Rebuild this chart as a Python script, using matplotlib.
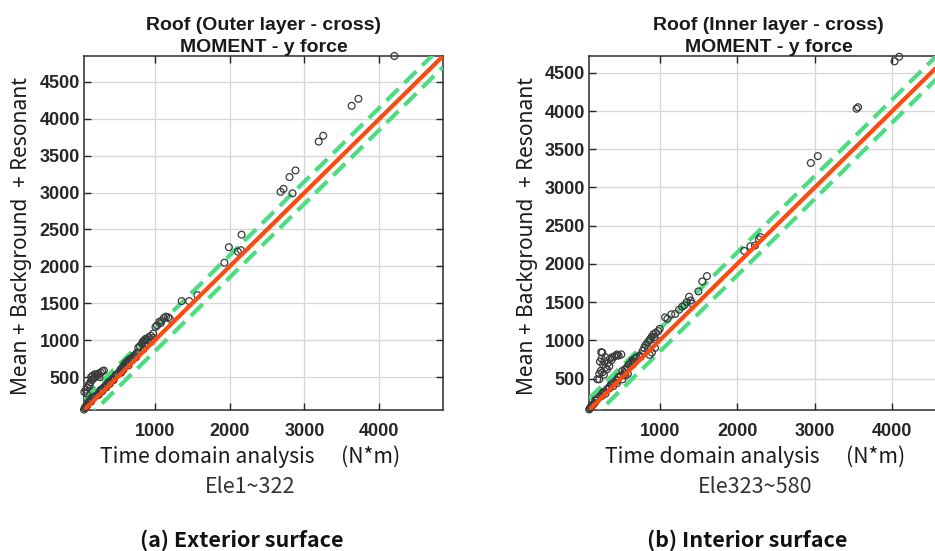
import matplotlib
matplotlib.use('Agg')
import matplotlib.pyplot as plt

# Exterior surface (Ele1~322): time domain vs. mean + background + resonant
ext_x = [4200, 3630, 3720, 3190, 3250, 2680, 2720, 2800, 2880, 2840,
         1990, 1930, 2110, 2150, 2160, 1360, 1460, 1570,
         1030, 1060, 1090, 1120, 1150, 1180, 1200, 1080, 1010,
         840, 860, 880, 900, 920, 950, 980, 870, 830, 800, 780,
         520, 540, 560, 580, 600, 620, 640, 660, 680, 700, 720, 740, 760, 600, 650, 700, 550, 580, 620,
         220, 240, 260, 280, 300, 320, 340, 360, 380, 400, 420, 440, 460, 480, 500, 300, 350, 400, 450,
         55, 65, 75, 85, 100, 115, 130, 145, 160, 180, 200,
         100, 150, 250, 350, 450, 550, 650, 750, 850, 950,
         120, 180, 280, 380, 480, 580, 680, 780, 880, 980,
         60, 80, 100, 120, 140, 160, 180, 200, 220, 250, 280, 300, 320, 240, 200, 170, 150, 260, 130, 90]
ext_y = [4850, 4175, 4270, 3690, 3770, 3010, 3050, 3210, 3300, 2990,
         2260, 2050, 2200, 2220, 2430, 1530, 1530, 1610,
         1200, 1250, 1260, 1300, 1320, 1310, 1290, 1230, 1180,
         980, 1000, 1020, 1000, 1040, 1060, 1090, 960, 950, 920, 900,
         560, 600, 620, 650, 680, 700, 720, 740, 750, 760, 790, 800, 830, 640, 700, 730, 560, 600, 660,
         250, 270, 300, 320, 340, 360, 380, 400, 420, 440, 460, 480, 500, 520, 540, 310, 360, 410, 470,
         60, 80, 95, 110, 130, 150, 160, 180, 200, 220, 240,
         120, 170, 260, 370, 460, 570, 660, 770, 880, 980,
         170, 230, 330, 430, 530, 630, 730, 830, 930, 1030,
         300, 330, 360, 400, 430, 460, 480, 500, 530, 550, 560, 580, 590, 520, 540, 520, 500, 500, 380, 280]

# Interior surface (Ele323~580)
int_x = [4030, 4090, 3540, 3560, 2950, 3040, 2090, 2170, 2280, 2300, 2230,
         1610, 1550, 1500, 1380, 1350, 1290, 1200, 1070, 1400, 1320, 1250, 1150, 1100, 1420,
         870, 900, 920, 950, 980, 1000, 880, 930, 960, 850, 820, 900, 870, 940,
         520, 550, 580, 600, 630, 650, 680, 700, 740, 780, 800, 620, 660, 520, 560, 590,
         200, 230, 260, 290, 320, 350, 380, 410, 440, 470, 500, 300, 400, 450,
         90, 100, 110, 120, 140, 160, 180,
         150, 250, 350, 450, 550, 650, 750, 850, 170, 270, 370, 470, 570, 670, 770,
         245, 220, 415, 450, 350, 285, 260, 195, 440, 505, 250, 230, 270, 300, 330, 360,
         390, 300, 240, 220, 260, 280, 320, 470, 380]
int_y = [4650, 4710, 4030, 4050, 3320, 3410, 2170, 2230, 2320, 2350, 2240,
         1840, 1770, 1640, 1570, 1500, 1440, 1345, 1300, 1520, 1460, 1400, 1340, 1280, 1480,
         1000, 1050, 1080, 1100, 1120, 1150, 1020, 1040, 1000, 980, 940, 840, 810, 900,
         600, 620, 650, 680, 710, 740, 760, 780, 800, 860, 900, 690, 720, 490, 540, 560,
         240, 270, 300, 330, 360, 390, 420, 450, 480, 510, 540, 300, 400, 440,
         95, 110, 125, 140, 160, 180, 210,
         170, 270, 370, 470, 570, 680, 780, 890, 220, 320, 420, 520, 620, 720, 820,
         845, 490, 790, 815, 660, 725, 840, 490, 800, 815, 760, 720, 680, 640, 700, 760,
         780, 780, 600, 560, 580, 550, 620, 800, 740]

ticks_x = [1000, 2000, 3000, 4000]
ticks_y = [500, 1000, 1500, 2000, 2500, 3000, 3500, 4000, 4500]
band = 150

panels = [
    dict(x=ext_x, y=ext_y, lim=(55, 4850), left=84,
         title='Roof (Outer layer - cross)\nMOMENT - y force',
         ele='Ele1~322', caption='(a) Exterior surface'),
    dict(x=int_x, y=int_y, lim=(88, 4720), left=589,
         title='Roof (Inner layer - cross)\nMOMENT - y force',
         ele='Ele323~580', caption='(b) Interior surface'),
]

W, H = 935, 551
fig = plt.figure(figsize=(W / 100, H / 100), dpi=100)

red = '#ff4a0f'
green = '#4cdd82'
tick_font = dict(family='Liberation Sans', weight='bold', size=13)

for p in panels:
    aw, ah = 359, 354
    ax = fig.add_axes([p['left'] / W, (H - 410) / H, aw / W, ah / H])
    lo, hi = p['lim']
    ax.plot([lo, hi], [lo + band, hi + band], color=green, lw=3, dashes=(4, 2), zorder=3)
    ax.plot([lo, hi], [lo - band, hi - band], color=green, lw=3, dashes=(4, 2), zorder=3)
    ax.scatter(p['x'], p['y'], s=24, facecolors='none', edgecolors='#3a3a3a',
               linewidths=0.9, zorder=4, clip_on=False)
    ax.plot([lo, hi], [lo, hi], color=red, lw=3, zorder=5, solid_capstyle='butt')
    ax.set_xlim(lo, hi)
    ax.set_ylim(lo, hi)
    ax.set_xticks(ticks_x)
    ax.set_yticks(ticks_y)
    ax.set_xticklabels([str(t) for t in ticks_x], fontdict=tick_font, color='#262626')
    ax.set_yticklabels([str(t) for t in ticks_y], fontdict=tick_font, color='#262626')
    ax.tick_params(direction='in', length=5, width=1, top=True, right=True,
                   color='#262626')
    ax.tick_params(axis='x', pad=9)
    ax.tick_params(axis='y', pad=3)
    ax.grid(True, color='#d6d6d6', lw=0.9)
    ax.set_axisbelow(True)
    for s in ax.spines.values():
        s.set_color('#2b2b2b')
        s.set_linewidth(1.1)
    ax.set_title(p['title'], family='Liberation Sans', weight='bold', size=14,
                 color='#1a1a1a', pad=3, linespacing=1.4)

    fig.text((p['left'] - 62) / W, 1 - 236 / H, 'Mean + Background  + Resonant',
             rotation=90, ha='center', va='center', family='Noto Sans',
             size=15, color='#1a1a1a')
    fig.text((p['left'] + 16) / W, 1 - 457 / H, 'Time domain analysis',
             ha='left', va='center', family='Noto Sans CJK TC', size=15.2, color='#1a1a1a')
    fig.text((p['left'] + 257) / W, 1 - 457 / H, '(N*m)',
             ha='left', va='center', family='Noto Sans CJK TC', size=15.2, color='#1a1a1a')
    fig.text((p['left'] + 166) / W, 1 - 487 / H, p['ele'],
             ha='center', va='center', family='Noto Sans CJK TC', size=15.5, color='#333333')
    fig.text((p['left'] + 158) / W, 1 - 540 / H, p['caption'],
             ha='center', va='center', family='Noto Sans CJK TC', weight='bold',
             size=15.5, color='#111111')

fig.savefig('out.png', dpi=100)
